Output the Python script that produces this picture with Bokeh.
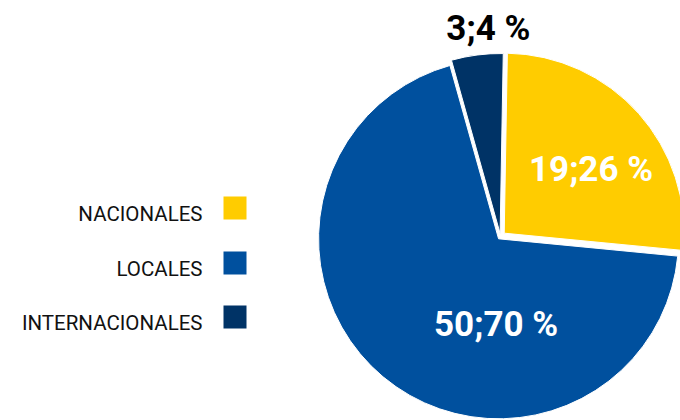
import numpy as np
from bokeh.plotting import figure
from bokeh.models import Range1d, ColumnDataSource
from bokeh.core.properties import value
from bokeh.embed import file_html
from bokeh.resources import INLINE

# ---- data ----
categories = ["NACIONALES", "LOCALES", "INTERNACIONALES"]
values = [19.26, 50.70, 3.4]
labels = ["19;26 %", "50;70 %", "3;4 %"]
colors = ["#FFCC00", "#00509E", "#003366"]

# ---- layout (reference pixel space: x right, y up = 420 - y_px) ----
W, H = 680, 420
cx, cy = 500, 420 - 236
R = 180
start_deg = 89.0
explode = [5, 3, 3]
label_r = [113, 87, 209]
label_shift = [-5, 37, -4]
label_colors = ["white", "white", "black"]

vals = np.array(values, dtype=float)
frac = vals / vals.sum()
ends_cum = np.cumsum(frac)
starts_cum = ends_cum - frac
# clockwise from start_deg
a_start = np.radians(start_deg) - 2 * np.pi * starts_cum
a_end = np.radians(start_deg) - 2 * np.pi * ends_cum
mid = (a_start + a_end) / 2

xs = cx + np.array(explode) * np.cos(mid)
ys = cy + np.array(explode) * np.sin(mid)

src = ColumnDataSource(dict(x=xs, y=ys, start=a_end, end=a_start, color=colors))

p = figure(width=W, height=H, output_backend="svg", toolbar_location=None,
           x_range=Range1d(0, W), y_range=Range1d(420 - H, 420),
           min_border=0)
p.axis.visible = False
p.grid.visible = False
p.outline_line_color = None
p.background_fill_color = "white"
p.border_fill_color = "white"

p.wedge(x="x", y="y", radius=R, start_angle="start", end_angle="end",
        fill_color="color", line_color="white", line_width=1, source=src)

la = mid + np.radians(label_shift)
lx = cx + np.array(label_r) * np.cos(la)
ly = cy + np.array(label_r) * np.sin(la) - 1
p.text(x=lx, y=ly, text=labels, text_color=label_colors,
       text_font=value("Roboto"), text_font_style="bold",
       text_font_size="35px", text_align="center", text_baseline="alphabetic")

# legend
leg_y = 420 - np.array([207.5, 262.5, 316.5])
p.rect(x=[234.5] * 3, y=leg_y, width=23, height=23, fill_color=colors, line_color=None)
p.text(x=[202] * 3, y=leg_y - 5.5, text=categories, text_color="#111111",
       text_font=value("Roboto"), text_font_size="20.5px",
       text_align="right", text_baseline="alphabetic")

open("out.html", "w").write(file_html(p, INLINE))
